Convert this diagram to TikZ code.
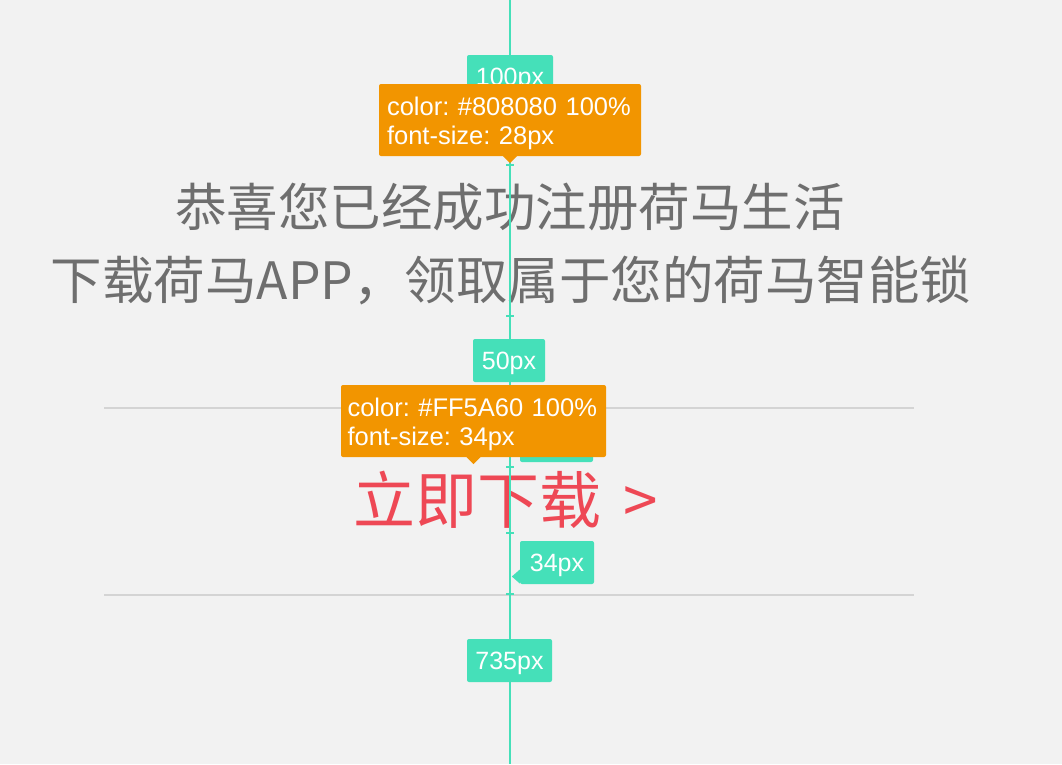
\documentclass[tikz,border=0pt]{standalone}
\usepackage{fontspec}
\setmainfont{Liberation Sans}
\newfontfamily\cjk{Noto Sans CJK SC}
\usetikzlibrary{positioning}
\frenchspacing

\definecolor{bggray}{HTML}{F2F2F2}
\definecolor{mint}{HTML}{45E0B9}
\definecolor{amber}{HTML}{F29500}
\definecolor{txtgray}{HTML}{6E6E6E}
\definecolor{rose}{HTML}{EE4855}
\definecolor{rulegray}{HTML}{D4D4D4}

\tikzset{
  tag/.style={fill=mint, text=white, rounded corners=2pt, inner sep=0pt,
    minimum height=43, text depth=0pt, font=\fontsize{25}{29}\selectfont},
  spec/.style={fill=amber, text=white, rounded corners=2pt, inner xsep=8, inner ysep=0pt,
    minimum height=72, align=left, text depth=27pt, font=\fontsize{25.5}{29}\selectfont},
  tick/.style={mint, line width=1.2pt},
  guide/.style={rulegray, line width=1.5pt},
}

\begin{document}
\begin{tikzpicture}[x=1pt, y=-1pt]
  \fill[bggray] (0,0) rectangle (1062,764); % Background
  \useasboundingbox (0,0) rectangle (1062,764);

  \draw [guide] (104,408) -- (914,408); % Button top
  \draw [guide] (104,595) -- (914,595); % Button bottom

  \node [text=txtgray, font=\cjk\fontsize{51.5}{60}\selectfont] (greet) at (510,207) {恭喜您已经成功注册荷马生活};
  \node [text=txtgray, font=\cjk\fontsize{51.5}{60}\selectfont] (invite) at (511,280) {下载荷马APP，领取属于您的荷马智能锁};
  \node [text=rose, font=\cjk\fontsize{62}{70}\selectfont] (download) at (506,500) {立即下载\hspace{22pt}>};

  \coordinate (top) at (510,0);
  \coordinate (bottom) at (510,764);
  \draw [mint, line width=2pt] (top) -- (bottom); % Measure line

  \foreach \y in {165,316,467,533,594}
    \draw [tick] (506,\y) -- (514,\y);

  \node [tag, minimum width=86] (tag100) at (510,76.5) {100px};
  \node [tag, minimum width=72] (tag50) at (509,360.5) {50px};
  \node [tag, minimum width=73] (tagmid) at (556.5,440.5) {};
  \node [tag, minimum width=74] (tag34) at (557,562.5) {34px};
  \fill [mint] ([yshift=-7]tag34.west) -- ++(-8,7) -- ++(8,7) -- cycle;
  \node [tag, minimum width=85] (tag735) at (509.5,660.5) {735px};

  \node [spec, text width=246] (spec1) at (510,120) {color: \#808080 100\%\\font-size: 28px};
  \fill [amber] ([xshift=-7]spec1.south) -- ++(7,7) -- ++(7,-7) -- cycle;
  \node [spec, inner xsep=6.5, text width=252] (spec2) at (473.5,421) {color: \#FF5A60 100\%\\font-size: 34px};
  \fill [amber] ([xshift=-7]spec2.south) -- ++(7,7) -- ++(7,-7) -- cycle;
\end{tikzpicture}
\end{document}
